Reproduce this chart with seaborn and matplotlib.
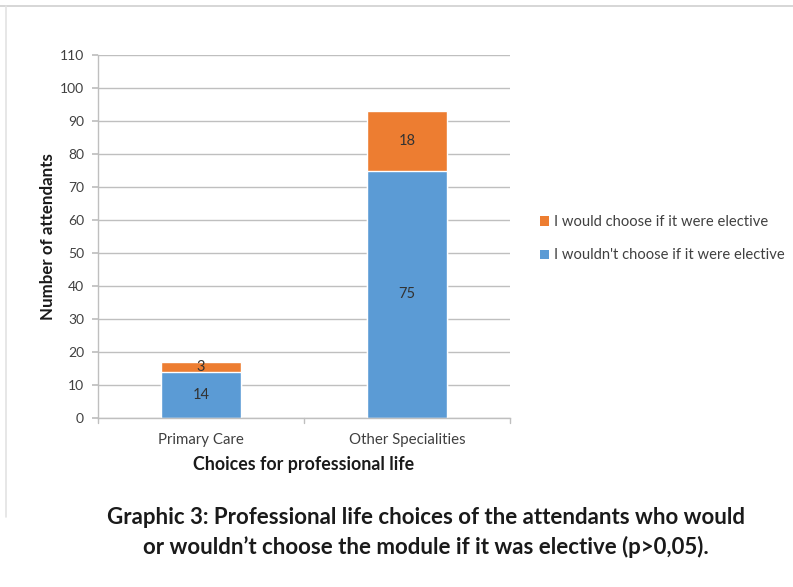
import matplotlib
matplotlib.use("Agg")
import matplotlib.pyplot as plt
import seaborn as sns
import pandas as pd
from matplotlib.patches import Patch
from matplotlib.lines import Line2D

categories = ["Primary Care", "Other Specialities"]
would_choose = [3, 18]
wouldnt_choose = [14, 75]
series_labels = ["I would choose if it were elective", "I wouldn't choose if it were elective"]
yticks = list(range(0, 111, 10))

BLUE = "#5B9BD5"
ORANGE = "#ED7D31"
GRID = "#BFBFBF"
TXT = "#404040"

sns.set_theme(style="white")
plt.rcParams["font.family"] = ["Lato", "DejaVu Sans"]

df = pd.DataFrame({
    "cat": categories,
    "would": would_choose,
    "wouldnt": wouldnt_choose,
})
df["total"] = df["would"] + df["wouldnt"]

fig = plt.figure(figsize=(7.93, 5.87), dpi=100)
ax = fig.add_axes([98 / 793, 1 - 418 / 587, (510 - 98) / 793, (418 - 55) / 587])

sns.barplot(data=df, x="cat", y="total", color=ORANGE, width=0.39, ax=ax, saturation=1)
sns.barplot(data=df, x="cat", y="wouldnt", color=BLUE, width=0.39, ax=ax, saturation=1)

ax.set_ylim(0, 110)
ax.set_xlim(-0.5, 1.5)
ax.set_yticks(yticks)
ax.set_yticklabels([str(t) for t in yticks], fontsize=10, color=TXT)
ax.set_xticks([0, 1])
ax.set_xticklabels(categories, fontsize=10.8, color=TXT)
ax.tick_params(axis="x", length=0, pad=11)
ax.tick_params(axis="y", length=4, color=GRID, left=True, pad=6, direction="out")
ax.yaxis.grid(True, color=GRID, linewidth=1)
ax.set_axisbelow(True)
for s in ["top", "right"]:
    ax.spines[s].set_visible(False)
for s in ["left", "bottom"]:
    ax.spines[s].set_color(GRID)
    ax.spines[s].set_linewidth(1)

# category boundary tick marks below x axis
for xb in [-0.5, 0.5, 1.5]:
    ax.plot([xb, xb], [0, -1.5], color=GRID, lw=1, clip_on=False, transform=ax.transData)

ax.set_xlabel("Choices for professional life", fontsize=12.8, fontweight="bold", color="#1a1a1a", labelpad=6)
ax.set_ylabel("Number of attendants", fontsize=12.2, fontweight="bold", color="#1a1a1a", labelpad=3)

# data labels
for i, (a, b) in enumerate(zip(would_choose, wouldnt_choose)):
    ax.text(i, b / 2, str(b), ha="center", va="center", fontsize=10.5, color="#333333")
    ax.text(i, b + a / 2, str(a), ha="center", va="center", fontsize=10.5, color="#333333")

handles = [Patch(facecolor=ORANGE, edgecolor="none"), Patch(facecolor=BLUE, edgecolor="none")]
leg = fig.legend(handles, series_labels, loc="upper left", bbox_to_anchor=(527 / 793, 1 - 202 / 587),
                 frameon=False, fontsize=10.6, handlelength=0.6, handleheight=0.6,
                 handletextpad=0.3, labelspacing=1.3)
for t in leg.get_texts():
    t.set_color(TXT)

# faint frame
fig.add_artist(Line2D([0, 1], [1 - 6 / 587, 1 - 6 / 587], color="#CFCFCF", lw=1.2, transform=fig.transFigure))
fig.add_artist(Line2D([6 / 793, 6 / 793], [1 - 6 / 587, 0.12], color="#E3E3E3", lw=1.2, transform=fig.transFigure))

fig.text(426 / 793, 1 - 518 / 587, "Graphic 3: Professional life choices of the attendants who would",
         ha="center", va="center", fontsize=16, fontweight="bold", color="#1a1a1a")
fig.text(426 / 793, 1 - 547 / 587, "or wouldn\u2019t choose the module if it was elective (p>0,05).",
         ha="center", va="center", fontsize=16, fontweight="bold", color="#1a1a1a")

fig.savefig("out.png", dpi=100)
